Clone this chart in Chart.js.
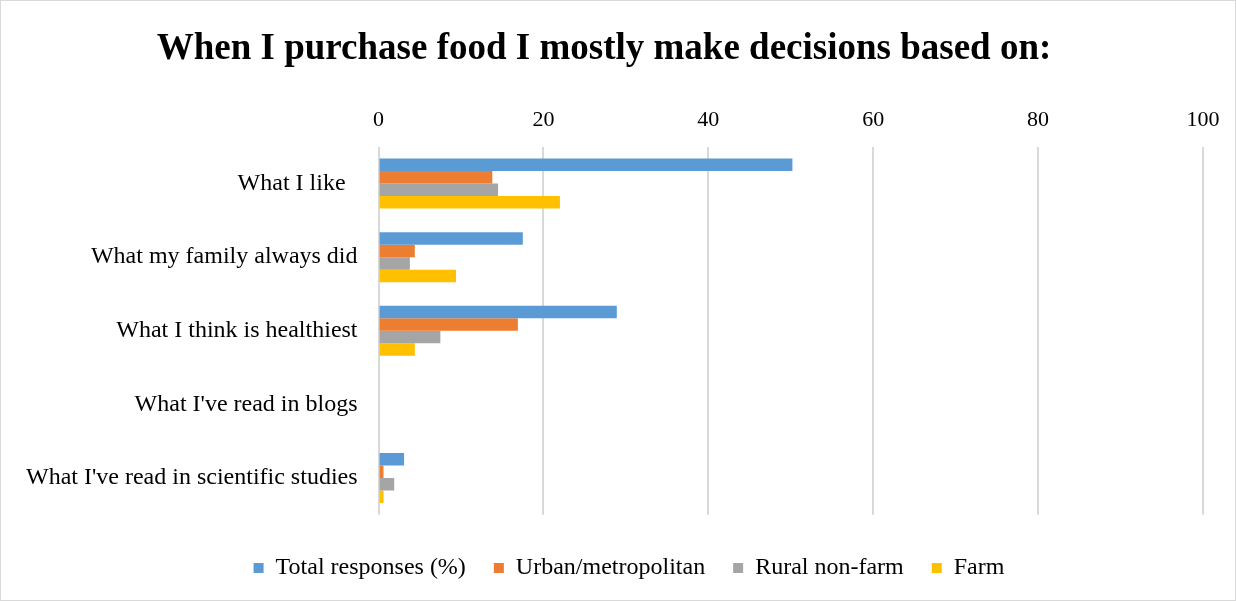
<!DOCTYPE html>
<html>
<head>
<meta charset="utf-8">
<script src="https://cdn.jsdelivr.net/npm/chart.js@4.4.0/dist/chart.umd.min.js"></script>
<style>
  html, body { margin: 0; padding: 0; background: #fff; }
  #wrap { position: absolute; left: 0; top: 0; width: 1234px; height: 599px; border: 1px solid #d9d9d9; }
</style>
</head>
<body>
<div id="wrap"><canvas id="mycanvas" width="1234" height="599"></canvas></div>
<script>
var categories = [
    "What I like  ",
    "What my family always did",
    "What I think is healthiest",
    "What I've read in blogs",
    "What I've read in scientific studies"
];
var total = [50.2, 17.5, 28.9, 0, 3.1];
var urban = [13.8, 4.4, 16.9, 0, 0.6];
var rural = [14.5, 3.8, 7.5, 0, 1.9];
var farm = [22.0, 9.4, 4.4, 0, 0.6];
var seriesNames = ["Total responses (%)", "Urban/metropolitan", "Rural non-farm", "Farm"];
var colors = ["#5b9bd5", "#ed7d31", "#a5a5a5", "#ffc000"];

var serif = "'Liberation Serif', 'Times New Roman', serif";

var chartdata = {
    labels: categories,
    datasets: [total, urban, rural, farm].map(function(vals, i) {
        return {
            label: seriesNames[i],
            data: vals,
            backgroundColor: colors[i],
            borderWidth: 0,
            categoryPercentage: 0.68,
            barPercentage: 1.0
        };
    })
};

// legend sits centred on the whole picture, not on the padded area
var legendShift = {
    id: 'legendShift',
    afterLayout: function(chart) {
        chart.legend.left += 25;
        chart.legend.right += 25;
    }
};

var ctx = document.getElementById("mycanvas");
var barGraph = new Chart(ctx, {
    type: 'bar',
    data: chartdata,
    plugins: [legendShift],
    options: {
        indexAxis: 'y',
        responsive: false,
        animation: false,
        layout: { padding: { left: 4, right: 32, top: 20, bottom: 10 } },
        scales: {
            x: {
                position: 'top',
                min: 0,
                max: 100,
                ticks: { stepSize: 20, color: '#000', font: { family: serif, size: 22 }, padding: 13 },
                grid: { color: '#d9d9d9', lineWidth: 2, drawTicks: false },
                border: { display: false }
            },
            y: {
                ticks: { color: '#000', font: { family: serif, size: 24 }, padding: 21 },
                grid: { display: false, drawTicks: false },
                border: { display: false }
            }
        },
        plugins: {
            title: {
                display: true,
                text: 'When I purchase food I mostly make decisions based on:',
                color: '#000',
                font: { family: serif, size: 37, weight: 'bold' },
                padding: { top: 6, bottom: 23 }
            },
            legend: {
                position: 'bottom',
                title: { display: true, text: '', font: { size: 1 }, padding: 6 },
                labels: {
                    color: '#000',
                    font: { family: serif, size: 24 },
                    boxWidth: 10,
                    boxHeight: 10,
                    padding: 28
                }
            },
            tooltip: { enabled: false }
        }
    }
});
</script>
</body>
</html>
